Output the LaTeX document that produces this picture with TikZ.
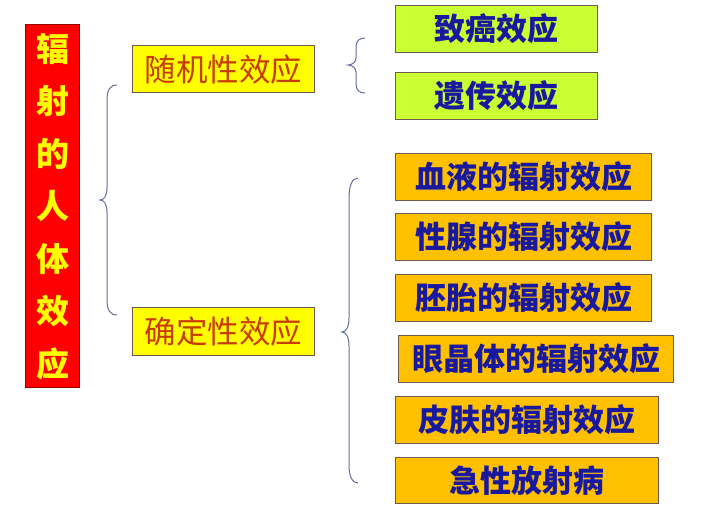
\documentclass[tikz,border=0pt]{standalone}
\usepackage{fontspec}
\newfontfamily\cjk{Noto Sans CJK SC}
\begin{document}
\begin{tikzpicture}[x=1pt,y=-1pt,
  box/.style={draw=boxline,line width=1.3pt,inner sep=0pt,anchor=north west},
  redbox/.style={box,draw=red!60!black,fill=redfill,text=yellowtxt,align=center,
     font=\cjk\bfseries\fontsize{33}{52.5}\selectfont},
  catbox/.style={box,fill=yellowfill,text=cattxt,font=\cjk\fontsize{31.5}{36}\selectfont},
  greenbox/.style={box,fill=greenfill,text=bluetxt,font=\cjk\bfseries\fontsize{31}{34}\selectfont},
  orangebox/.style={box,fill=orangefill,text=bluetxt,font=\cjk\bfseries\fontsize{31}{34}\selectfont},
  bracestyle/.style={draw=bracecol,line width=1pt}]
\definecolor{boxline}{RGB}{110,90,80}
\definecolor{redfill}{RGB}{255,0,0}
\definecolor{yellowtxt}{RGB}{255,255,0}
\definecolor{yellowfill}{RGB}{255,255,0}
\definecolor{cattxt}{RGB}{200,60,0}
\definecolor{greenfill}{RGB}{204,255,51}
\definecolor{orangefill}{RGB}{255,192,0}
\definecolor{bluetxt}{RGB}{25,25,160}
\definecolor{bracecol}{RGB}{100,110,165}
\useasboundingbox[fill=white] (0,0) rectangle (720,514);

% left title
\node[redbox,minimum width=54pt,minimum height=363pt] (title) at (25,24)
  {辐\\射\\的\\人\\体\\效\\应};

% categories
\node[catbox,minimum width=182pt,minimum height=47pt] (rand) at (132,45) {随机性效应};
\node[catbox,minimum width=182pt,minimum height=48pt] (det) at (132,307) {确定性效应};

% stochastic effects
\node[greenbox,minimum width=202pt,minimum height=47pt] (g1) at (395,5) {致癌效应};
\node[greenbox,minimum width=202pt,minimum height=47pt] (g2) at (395,72) {遗传效应};

% deterministic effects
\node[orangebox,minimum width=256pt,minimum height=47pt] (o1) at (395,153) {血液的辐射效应};
\node[orangebox,minimum width=256pt,minimum height=47pt] (o2) at (395,213) {性腺的辐射效应};
\node[orangebox,minimum width=256pt,minimum height=47pt] (o3) at (395,274) {胚胎的辐射效应};
\node[orangebox,minimum width=275pt,minimum height=47pt] (o4) at (398,335) {眼晶体的辐射效应};
\node[orangebox,minimum width=263pt,minimum height=47pt] (o5) at (395,396) {皮肤的辐射效应};
\node[orangebox,minimum width=263pt,minimum height=46pt] (o6) at (395,457) {急性放射病};

% braces
\draw[bracestyle] (117,85) .. controls (110,85) and (107,90) .. (107,100)
  -- (107,188) .. controls (107,196) and (104,200) .. (100,200)
  .. controls (104,200) and (107,204) .. (107,212)
  -- (107,300) .. controls (107,310) and (110,315) .. (117,315);
\draw[bracestyle] (365,38) .. controls (359,38) and (356,41) .. (356,47)
  -- (356,58) .. controls (356,62) and (352,65) .. (348,65)
  .. controls (352,65) and (356,68) .. (356,72)
  -- (356,84) .. controls (356,90) and (359,93) .. (365,93);
\draw[bracestyle] (358,178) .. controls (352,178) and (349,186) .. (349,198)
  -- (349,318) .. controls (349,327) and (346,332) .. (342,332)
  .. controls (346,332) and (349,337) .. (349,346)
  -- (349,465) .. controls (349,476) and (352,483) .. (358,483);
\end{tikzpicture}
\end{document}
